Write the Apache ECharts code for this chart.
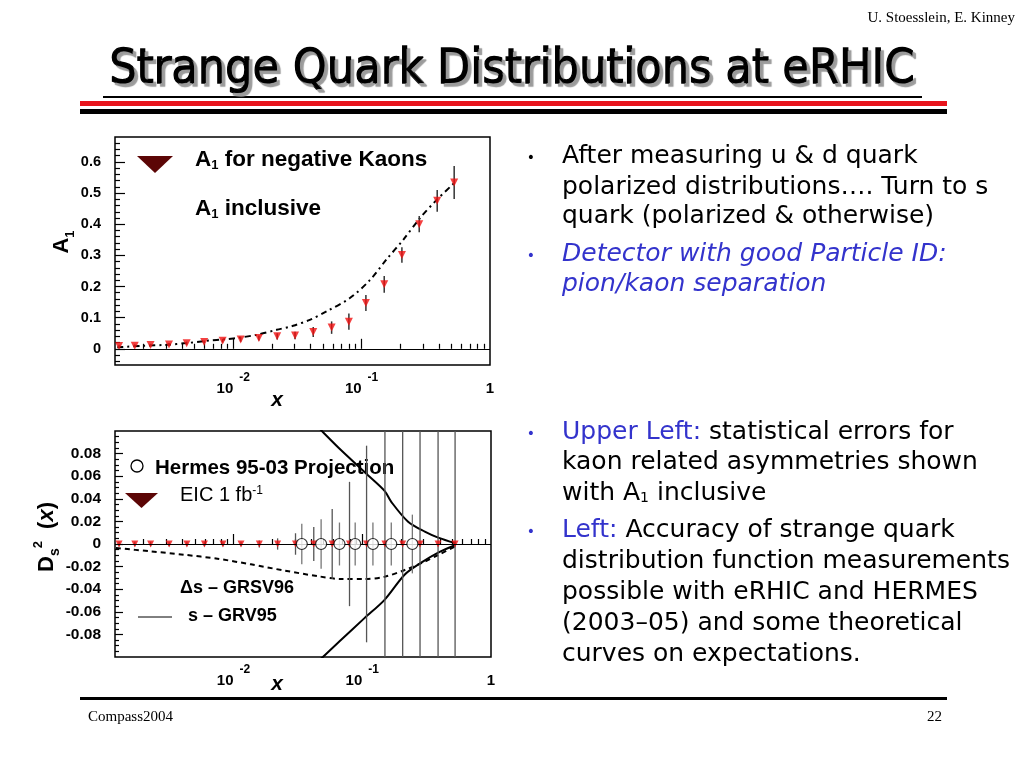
<!DOCTYPE html>
<html><head><meta charset="utf-8">
<script src="https://cdn.jsdelivr.net/npm/echarts@6/dist/echarts.min.js"></script>
<style>html,body{margin:0;padding:0;background:#fff}#c{width:1024px;height:768px}</style>
</head><body><div id="c"></div>
<script>
// ---------- Upper panel data (A1 vs x) ----------
const kaonX   = [0.00129,0.00171,0.00227,0.00316,0.00434,0.00594,0.00827,0.01143,0.01585,0.0220,0.0303,0.0420,0.0584,0.0796,0.108,0.150,0.206,0.281,0.388,0.526];
const kaonA1  = [0.009,0.010,0.012,0.014,0.018,0.022,0.026,0.030,0.035,0.040,0.043,0.054,0.068,0.087,0.147,0.207,0.301,0.400,0.475,0.534];
const kaonErr = [0.004,0.004,0.004,0.005,0.005,0.005,0.006,0.007,0.008,0.010,0.012,0.016,0.020,0.026,0.026,0.027,0.025,0.026,0.035,0.053];
const inclX   = [0.00125,0.00199,0.00303,0.00433,0.00621,0.00889,0.01128,0.0152,0.0218,0.0293,0.0395,0.0533,0.0811,0.1163,0.157,0.211,0.284,0.384,0.526];
const inclA1  = [0.005,0.0096,0.0128,0.0183,0.0257,0.031,0.036,0.045,0.061,0.074,0.093,0.120,0.163,0.221,0.288,0.350,0.419,0.478,0.532];

// ---------- Lower panel data (Ds^2(x) vs x) ----------
const eicX    = [0.00129,0.00171,0.00227,0.00316,0.00434,0.00594,0.00827,0.01143,0.01585,0.0220,0.0303,0.0420,0.0584,0.0796,0.108,0.150,0.206,0.281,0.388,0.526];
const eicDs   = [0,0,0,0,0,0,0,0,0,0,0,0,0,0,0,0,0,0,0,0];
const eicErr  = [0.002,0.002,0.002,0.002,0.002,0.002,0.002,0.002,0.003,0.005,0.0095,0.015,0.031,0.055,0.087,0.2,0.2,0.2,0.2,0.2];
const hermesX   = [0.0339,0.0479,0.0665,0.0881,0.121,0.168,0.245];
const hermesDs  = [0,0,0,0,0,0,0];
const hermesErr = [0.018,0.022,0.019,0.019,0.019,0.019,0.026];
const grv95UpX = [0.045,0.0494,0.0686,0.1106,0.149,0.168,0.227,0.306,0.389,0.531];
const grv95Up  = [0.104,0.0991,0.0829,0.0609,0.047,0.0373,0.0197,0.0109,0.0056,0.0006];
const grv95LoX = [0.045,0.0494,0.0686,0.104,0.149,0.214,0.287,0.389,0.53];
const grv95Lo  = [-0.104,-0.100,-0.0847,-0.0656,-0.0494,-0.027,-0.0165,-0.0076,-0.0009];
const grsv96X  = [0.00122,0.00226,0.00412,0.0075,0.01365,0.0248,0.0452,0.0686,0.104,0.149,0.214,0.288,0.389,0.53];
const grsv96   = [-0.0035,-0.0065,-0.0095,-0.013,-0.018,-0.0235,-0.0285,-0.031,-0.031,-0.029,-0.023,-0.017,-0.0097,-0.002];

// ---------- Axis ticks / labels ----------
const xLabelValues = [0.01, 0.1, 1];
const xLabelTexts  = ['10{sup|-2}', '10{sup|-1}', '1'];
const xMajorTicks  = [0.01, 0.1];
const xMinorTicks  = [0.002,0.003,0.004,0.005,0.006,0.007,0.008,0.009,0.02,0.03,0.04,0.05,0.06,0.07,0.08,0.09,0.2,0.3,0.4,0.5,0.6,0.7,0.8,0.9];
const yTopLabels   = [0, 0.1, 0.2, 0.3, 0.4, 0.5, 0.6];
const yBotLabels   = [-0.08,-0.06,-0.04,-0.02,0,0.02,0.04,0.06,0.08];

const yTopMinor = []; for (let i = -2; i <= 33; i++) { if (i % 5 !== 0) yTopMinor.push(+(i*0.02).toFixed(2)); }
const yBotMinor = []; for (let i = -19; i <= 19; i++) { if (i % 4 !== 0) yBotMinor.push(+(i*0.005).toFixed(3)); }

const SANS = '"Liberation Sans", Arial, sans-serif';
const BODY = '"DejaVu Sans", Verdana, sans-serif';
const SERIF = '"Liberation Serif", "Times New Roman", serif';
const BFS = 25;

const zip3 = (a,b,c) => a.map((v,i)=>[v,b[i],c[i]]);
const zip2 = (a,b) => a.map((v,i)=>[v,b[i]]);

function errRender(color, width) {
  return function (params, api) {
    const x = api.value(0), y = api.value(1), e = api.value(2);
    const cs = params.coordSys;
    const p1 = api.coord([x, y + e]), p2 = api.coord([x, y - e]);
    const y1 = Math.max(cs.y, p1[1]), y2 = Math.min(cs.y + cs.height, p2[1]);
    return {type:'line', shape:{x1:p1[0], y1:y1, x2:p2[0], y2:y2}, style:{stroke:color, lineWidth:width}};
  };
}

function xLabelFmt(v) {
  for (let i = 0; i < xLabelValues.length; i++) if (Math.abs(Math.log10(v) - Math.log10(xLabelValues[i])) < 1e-6) return xLabelTexts[i];
  return '';
}

function xAx(grid, major) {
  return {
    type:'log', logBase:10, gridIndex:grid, min:0.0012, max:1, position:'bottom',
    axisLine:{show:false}, splitLine:{show:false}, minorTick:{show:false},
    axisTick:{show:true, inside:true, length: major ? 10 : 5, customValues: major ? xMajorTicks : xMinorTicks, lineStyle:{color:'#000', width:1.2}},
    axisLabel: major ? {show:true, customValues:xLabelValues, formatter:xLabelFmt, margin:7,
      color:'#000', fontFamily:SANS, fontWeight:'bold', fontSize:15, lineHeight:34,
      rich:{sup:{fontFamily:SANS, fontWeight:'bold', fontSize:12, lineHeight:10, verticalAlign:'top', padding:[0,0,0,6], color:'#000'}}} : {show:false}
  };
}
function yAx(grid, major, min, max, labels, minor, len, dec, fs, name) {
  const o = {
    type:'value', gridIndex:grid, min:min, max:max, position:'left',
    axisLine:{show:false}, splitLine:{show:false},
    axisTick:{show:true, inside:true, length: major ? len : len/2, customValues: major ? labels : minor, lineStyle:{color:'#000', width:1.2}},
    axisLabel: major ? {show:true, customValues:labels, margin:14, color:'#000', fontFamily:SANS, fontWeight:'bold', fontSize:fs,
      formatter: v => Math.abs(v) < 1e-9 ? '0' : v.toFixed(dec)} : {show:false}
  };
  if (major && name) Object.assign(o, name);
  return o;
}

function txt(text, x, y, font, fill, align, rich) {
  const s = {text:text, x:x, y:y, align:align||'left', verticalAlign:'middle', textAlign:align||'left', textVerticalAlign:'middle', font:font, fill:fill||'#000'};
  if (rich) s.rich = rich;
  return {type:'text', style:s};
}

const chart = echarts.init(document.getElementById('c'));
const option = {
  animation:false,
  backgroundColor:'#fff',
  grid:[
    {left:115, top:137, width:375, height:228, show:true, borderColor:'#000', borderWidth:1.5},
    {left:115, top:431, width:376, height:226, show:true, borderColor:'#000', borderWidth:1.5}
  ],
  xAxis:[ xAx(0,true), xAx(0,false), xAx(1,true), xAx(1,false) ],
  yAxis:[
    yAx(0,true,-0.052,0.68,yTopLabels,yTopMinor,10,1,14.5,{name:'A{sub|1}', nameLocation:'middle', nameRotate:90, nameGap:37,
      nameTextStyle:{fontFamily:SANS, fontWeight:'bold', fontSize:22, color:'#000', lineHeight:30, padding:[0,0,0,18],
        rich:{sub:{fontFamily:SANS, fontWeight:'bold', fontSize:13, lineHeight:13, verticalAlign:'bottom', color:'#000'}}}}),
    yAx(0,false,-0.052,0.68,yTopLabels,yTopMinor,10,1,14.5),
    yAx(1,true,-0.1,0.1,yBotLabels,yBotMinor,8,2,15.5,{name:'D{sub|s}{sup|2}{d|  (}{it|x}{d|)}', nameLocation:'middle', nameRotate:90, nameGap:37,
      nameTextStyle:{fontFamily:SANS, fontWeight:'bold', fontSize:22, color:'#000', lineHeight:30, padding:[0,0,0,14],
        rich:{d:{fontFamily:SANS, fontWeight:'bold', fontSize:22, color:'#000'},
              it:{fontFamily:SANS, fontWeight:'bold', fontStyle:'italic', fontSize:22, color:'#000'},
              sub:{fontFamily:SANS, fontWeight:'bold', fontSize:14, lineHeight:12, verticalAlign:'bottom', color:'#000'},
              sup:{fontFamily:SANS, fontWeight:'bold', fontSize:13, lineHeight:12, verticalAlign:'top', color:'#000'}}}}),
    yAx(1,false,-0.1,0.1,yBotLabels,yBotMinor,8,2,15.5)
  ],
  series:[
    {type:'line', name:'A1 inclusive', xAxisIndex:0, yAxisIndex:0, data:zip2(inclX,inclA1), showSymbol:false, smooth:0.3,
      lineStyle:{color:'#000', width:2, type:[6,4,2,4]}, z:2},
    {type:'custom', xAxisIndex:0, yAxisIndex:0, data:zip3(kaonX,kaonA1,kaonErr), renderItem:errRender('#333',1.5), encode:{x:0,y:1}, z:3},
    {type:'scatter', name:'A1 for negative Kaons', xAxisIndex:0, yAxisIndex:0, data:zip2(kaonX,kaonA1), symbol:'triangle', symbolRotate:180, symbolSize:8,
      itemStyle:{color:'#f01010'}, z:4,
      markLine:{silent:true, symbol:'none', label:{show:false}, lineStyle:{color:'#000', width:1.2, type:'solid'}, data:[{yAxis:0}]}},

    {type:'line', name:'s - GRV95 (+)', xAxisIndex:2, yAxisIndex:2, data:zip2(grv95UpX,grv95Up), showSymbol:false, smooth:0.3,
      lineStyle:{color:'#000', width:2}, z:2},
    {type:'line', name:'s - GRV95 (-)', xAxisIndex:2, yAxisIndex:2, data:zip2(grv95LoX,grv95Lo), showSymbol:false, smooth:0.3,
      lineStyle:{color:'#000', width:2}, z:2},
    {type:'line', name:'Δs - GRSV96', xAxisIndex:2, yAxisIndex:2, data:zip2(grsv96X,grsv96), showSymbol:false, smooth:0.3,
      lineStyle:{color:'#000', width:2, type:[5,4]}, z:2},
    {type:'custom', xAxisIndex:2, yAxisIndex:2, data:zip3(eicX,eicDs,eicErr), renderItem:errRender('#555',1.3), encode:{x:0,y:1}, z:3},
    {type:'custom', xAxisIndex:2, yAxisIndex:2, data:zip3(hermesX,hermesDs,hermesErr), renderItem:errRender('#777',1.3), encode:{x:0,y:1}, z:3},
    {type:'scatter', name:'EIC 1 fb-1', xAxisIndex:2, yAxisIndex:2, data:zip2(eicX,eicDs), symbol:'triangle', symbolRotate:180, symbolSize:7,
      itemStyle:{color:'#f01010'}, z:4,
      markLine:{silent:true, symbol:'none', label:{show:false}, lineStyle:{color:'#000', width:1.2, type:'solid'}, data:[{yAxis:0}]}},
    {type:'scatter', name:'Hermes 95-03 Projection', xAxisIndex:2, yAxisIndex:2, data:zip2(hermesX,hermesDs), symbol:'circle', symbolSize:11,
      itemStyle:{color:'#fff', borderColor:'#000', borderWidth:1.2}, z:5}
  ],
  graphic:[
    // header
    txt('U. Stoesslein, E. Kinney', 1015, 18, '15px '+SERIF, '#000', 'right'),
    {type:'text', z:10, style:{text:'Strange Quark Distributions at eRHIC', x:512, y:71, align:'center', verticalAlign:'middle', textAlign:'center', textVerticalAlign:'middle',
      font:'48px "DejaVu Sans Condensed", "DejaVu Sans", sans-serif', fill:'#000', stroke:'#000', lineWidth:1.3,
      textShadowColor:'#9a9a9a', textShadowOffsetX:3, textShadowOffsetY:3, textShadowBlur:1,
      shadowColor:'#9a9a9a', shadowOffsetX:3, shadowOffsetY:3, shadowBlur:1}},
    {type:'line', shape:{x1:103, y1:97, x2:922, y2:97}, style:{stroke:'#000', lineWidth:2}},
    {type:'rect', shape:{x:80, y:101, width:867, height:5}, style:{fill:'#e8141c'}},
    {type:'rect', shape:{x:80, y:109, width:867, height:5}, style:{fill:'#000'}},
    // footer
    {type:'rect', shape:{x:80, y:697, width:867, height:3}, style:{fill:'#000'}},
    txt('Compass2004', 88, 717, '15px '+SERIF),
    txt('22', 942, 717, '15px '+SERIF, '#000', 'right'),

    // upper legend
    {type:'polygon', shape:{points:[[137,156],[173,156],[155,173]]}, style:{fill:'#5c0606'}},
    txt('A{sub|1} for negative Kaons', 195, 160, 'bold 22.5px '+SANS, '#000', 'left',
      {sub:{fontFamily:SANS, fontWeight:'bold', fontSize:13, lineHeight:12, verticalAlign:'bottom', fill:'#000'}}),
    txt('A{sub|1} inclusive', 195, 209, 'bold 22.5px '+SANS, '#000', 'left',
      {sub:{fontFamily:SANS, fontWeight:'bold', fontSize:13, lineHeight:12, verticalAlign:'bottom', fill:'#000'}}),
    txt('x', 277, 400, 'italic bold 21px '+SANS, '#000', 'center'),

    // lower legend
    {type:'circle', shape:{cx:137, cy:466, r:6}, style:{fill:'#fff', stroke:'#000', lineWidth:1.3}},
    txt('Hermes 95-03 Projection', 155, 468, 'bold 20.5px '+SANS),
    {type:'polygon', shape:{points:[[125,493],[158,493],[141.5,508]]}, style:{fill:'#5c0606'}},
    txt('EIC 1 fb{sup|-1}', 180, 495, '20px '+SANS, '#000', 'left',
      {sup:{fontFamily:SANS, fontSize:12, lineHeight:10, verticalAlign:'top', fill:'#000'}}),
    txt('Δs – GRSV96', 180, 588, 'bold 18px '+SANS),
    {type:'line', shape:{x1:138, y1:617, x2:172, y2:617}, style:{stroke:'#000', lineWidth:1}},
    txt('s – GRV95', 188, 616, 'bold 18px '+SANS),
    txt('x', 277, 684, 'italic bold 21px '+SANS, '#000', 'center'),

    // right-hand text
    txt('•', 531, 158, '14px '+BODY, '#000', 'center'),
    txt('After measuring u & d quark', 562, 156, BFS+'px '+BODY),
    txt('polarized distributions…. Turn to s', 562, 187, BFS+'px '+BODY),
    txt('quark (polarized & otherwise)', 562, 216, BFS+'px '+BODY),
    txt('•', 531, 256, '14px '+BODY, '#3333cc', 'center'),
    txt('Detector with good Particle ID:', 562, 254, 'italic '+BFS+'px '+BODY, '#3333cc'),
    txt('pion/kaon separation', 562, 284, 'italic '+BFS+'px '+BODY, '#3333cc'),

    txt('•', 531, 434, '14px '+BODY, '#3333cc', 'center'),
    txt('{b|Upper Left:} statistical errors for', 562, 432, BFS+'px '+BODY, '#000', 'left', {b:{fontFamily:BODY, fontSize:BFS, fill:'#3333cc'}}),
    txt('kaon related asymmetries shown', 562, 462, BFS+'px '+BODY),
    txt('with A{sub|1} inclusive', 562, 493, BFS+'px '+BODY, '#000', 'left', {sub:{fontFamily:BODY, fontSize:14, lineHeight:12, verticalAlign:'bottom', fill:'#000'}}),
    txt('•', 531, 532, '14px '+BODY, '#3333cc', 'center'),
    txt('{b|Left:} Accuracy of strange quark', 562, 530, BFS+'px '+BODY, '#000', 'left', {b:{fontFamily:BODY, fontSize:BFS, fill:'#3333cc'}}),
    txt('distribution function measurements', 562, 561, BFS+'px '+BODY),
    txt('possible with eRHIC and HERMES', 562, 592, BFS+'px '+BODY),
    txt('(2003–05) and some theoretical', 562, 623, BFS+'px '+BODY),
    txt('curves on expectations.', 562, 654, BFS+'px '+BODY)
  ]
};
chart.setOption(option);
</script></body></html>
